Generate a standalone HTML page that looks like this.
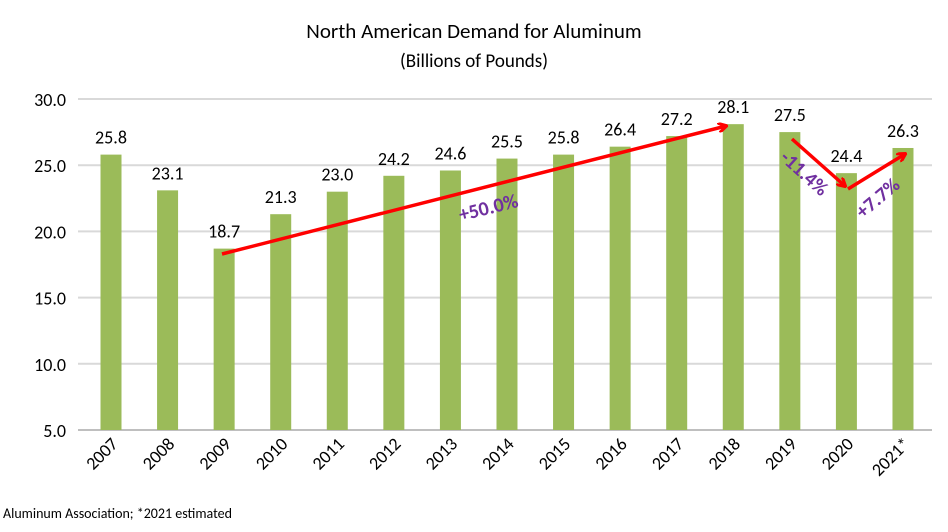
<!DOCTYPE html>
<html><head><meta charset="utf-8"><style>
body{margin:0;background:#fff;font-family:"Liberation Sans",sans-serif}
svg text{font-family:"Carlito","Liberation Sans",sans-serif}
</style></head><body>
<svg id="chart" width="948" height="527" viewBox="0 0 948 527" xmlns="http://www.w3.org/2000/svg">
<defs><marker id="ah" markerWidth="10" markerHeight="10" refX="8" refY="5" orient="auto" markerUnits="userSpaceOnUse"><path d="M0,0 L9,5 L0,10" fill="none" stroke="#f00" stroke-width="3"/></marker></defs>
<text x="474" y="38" font-size="21" text-anchor="middle" fill="#000">North American Demand for Aluminum</text>
<text x="474" y="67" font-size="19" text-anchor="middle" fill="#000">(Billions of Pounds)</text>
<g id="grid"></g><g id="bars"></g><g id="labels"></g><g id="xt"></g><g id="yt"></g>
<line x1="222" y1="254" x2="726" y2="126" stroke="#f00" stroke-width="3.5" marker-end="url(#ah)"/>
<line x1="792" y1="139" x2="845" y2="186" stroke="#f00" stroke-width="3.5" marker-end="url(#ah)"/>
<line x1="848" y1="189" x2="905" y2="154" stroke="#f00" stroke-width="3.5" marker-end="url(#ah)"/>
<text transform="translate(490,214) rotate(-14)" font-size="20" font-weight="bold" fill="#7030A0" text-anchor="middle">+50.0%</text>
<text transform="translate(800,178) rotate(42)" font-size="20" font-weight="bold" fill="#7030A0" text-anchor="middle">-11.4%</text>
<text transform="translate(882,203) rotate(-40)" font-size="20" font-weight="bold" fill="#7030A0" text-anchor="middle">+7.7%</text>
<text x="3" y="518" font-size="14" fill="#000">Aluminum Association; *2021 estimated</text>
</svg>
<script>
const categories=["2007","2008","2009","2010","2011","2012","2013","2014","2015","2016","2017","2018","2019","2020","2021*"];
const values=[25.8,23.1,18.7,21.3,23.0,24.2,24.6,25.5,25.8,26.4,27.2,28.1,27.5,24.4,26.3];
const yTicks=[5,10,15,20,25,30];
const NS="http://www.w3.org/2000/svg";
const y=v=>430-(v-5)*(331/25);
const x=i=>111+i*56.57;
function mk(t,a,p,txt){const e=document.createElementNS(NS,t);for(const k in a)e.setAttribute(k,a[k]);if(txt!==undefined)e.textContent=txt;document.getElementById(p).appendChild(e);return e;}
yTicks.forEach(t=>{
 const g=mk('line',{x1:78,x2:932,y1:y(t),y2:y(t),stroke:t===5?'#bfbfbf':'#d9d9d9','stroke-width':2},'grid');
 
 
 const l=mk('text',{x:66,y:y(t)+7,'font-size':18,'text-anchor':'end',fill:'#000'},'yt',t.toFixed(1));
 
 
});
categories.forEach((c,i)=>{
 const b=mk('rect',{x:x(i)-10.5,y:y(values[i]),width:21,height:y(5)-y(values[i]),fill:'#9BBB59'},'bars');
 
 
 const v=mk('text',{x:x(i),y:y(values[i])-11,'font-size':18,'text-anchor':'middle',fill:'#000'},'labels',values[i].toFixed(1));
 
 
 const t=mk('text',{transform:`translate(${x(i)+8},${445}) rotate(-45)`,'font-size':18,'text-anchor':'end',fill:'#000'},'xt',c);
 
 
});
</script>
</body></html>
